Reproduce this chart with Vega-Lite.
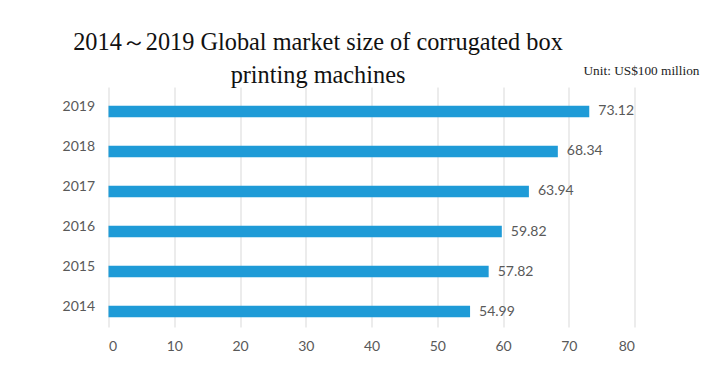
{
  "$schema": "https://vega.github.io/schema/vega-lite/v6.json",
  "width": 526,
  "height": 240,
  "autosize": "none",
  "padding": {"left": 108.5, "top": 87, "right": 82.5, "bottom": 43},
  "background": "white",
  "title": {
    "text": ["2014～2019 Global market size of corrugated box", "printing machines"],
    "font": "Liberation Serif",
    "fontSize": 24.3,
    "fontWeight": "normal",
    "color": "#111111",
    "anchor": "middle",
    "frame": "group",
    "dx": -53.5,
    "dy": 29,
    "lineHeight": 33,
    "offset": 4
  },
  "data": {
    "values": [
      {"year": "2014", "value": 54.99},
      {"year": "2015", "value": 57.82},
      {"year": "2016", "value": 59.82},
      {"year": "2017", "value": 63.94},
      {"year": "2018", "value": 68.34},
      {"year": "2019", "value": 73.12}
    ]
  },
  "encoding": {
    "y": {
      "field": "year",
      "type": "nominal",
      "sort": "descending",
      "scale": {"paddingInner": 0.7125, "paddingOuter": 0.356},
      "axis": {
        "title": "Unit: US$100 million",
        "titleAngle": 0,
        "titleX": 474.5,
        "titleY": -13,
        "titleAlign": "left",
        "titleBaseline": "alphabetic",
        "titleFont": "Liberation Serif",
        "titleFontSize": 13.3,
        "titleFontWeight": "normal",
        "titleColor": "#222222",
        "domain": false,
        "ticks": false,
        "labelPadding": 14,
        "labelFont": "Lato",
        "labelFontSize": 14,
        "labelColor": "#595959"
      }
    },
    "x": {
      "field": "value",
      "type": "quantitative",
      "scale": {"domain": [0, 80], "nice": false},
      "axis": {
        "title": null,
        "values": [0, 10, 20, 30, 40, 50, 60, 70, 80],
        "domain": false,
        "ticks": false,
        "grid": true,
        "gridColor": "#d9d9d9",
        "gridWidth": 1,
        "labelPadding": 12,
        "labelFont": "Lato",
        "labelFontSize": 14,
        "labelColor": "#595959"
      }
    }
  },
  "layer": [
    {"mark": {"type": "bar", "color": "#1f9bd7", "yOffset": 4.5}},
    {
      "mark": {"type": "text", "align": "left", "baseline": "middle", "dx": 9, "yOffset": 4.5, "font": "Lato", "fontSize": 14, "color": "#595959"},
      "encoding": {"text": {"field": "value", "type": "quantitative", "format": ".2f"}}
    }
  ],
  "config": {"view": {"stroke": null}}
}
